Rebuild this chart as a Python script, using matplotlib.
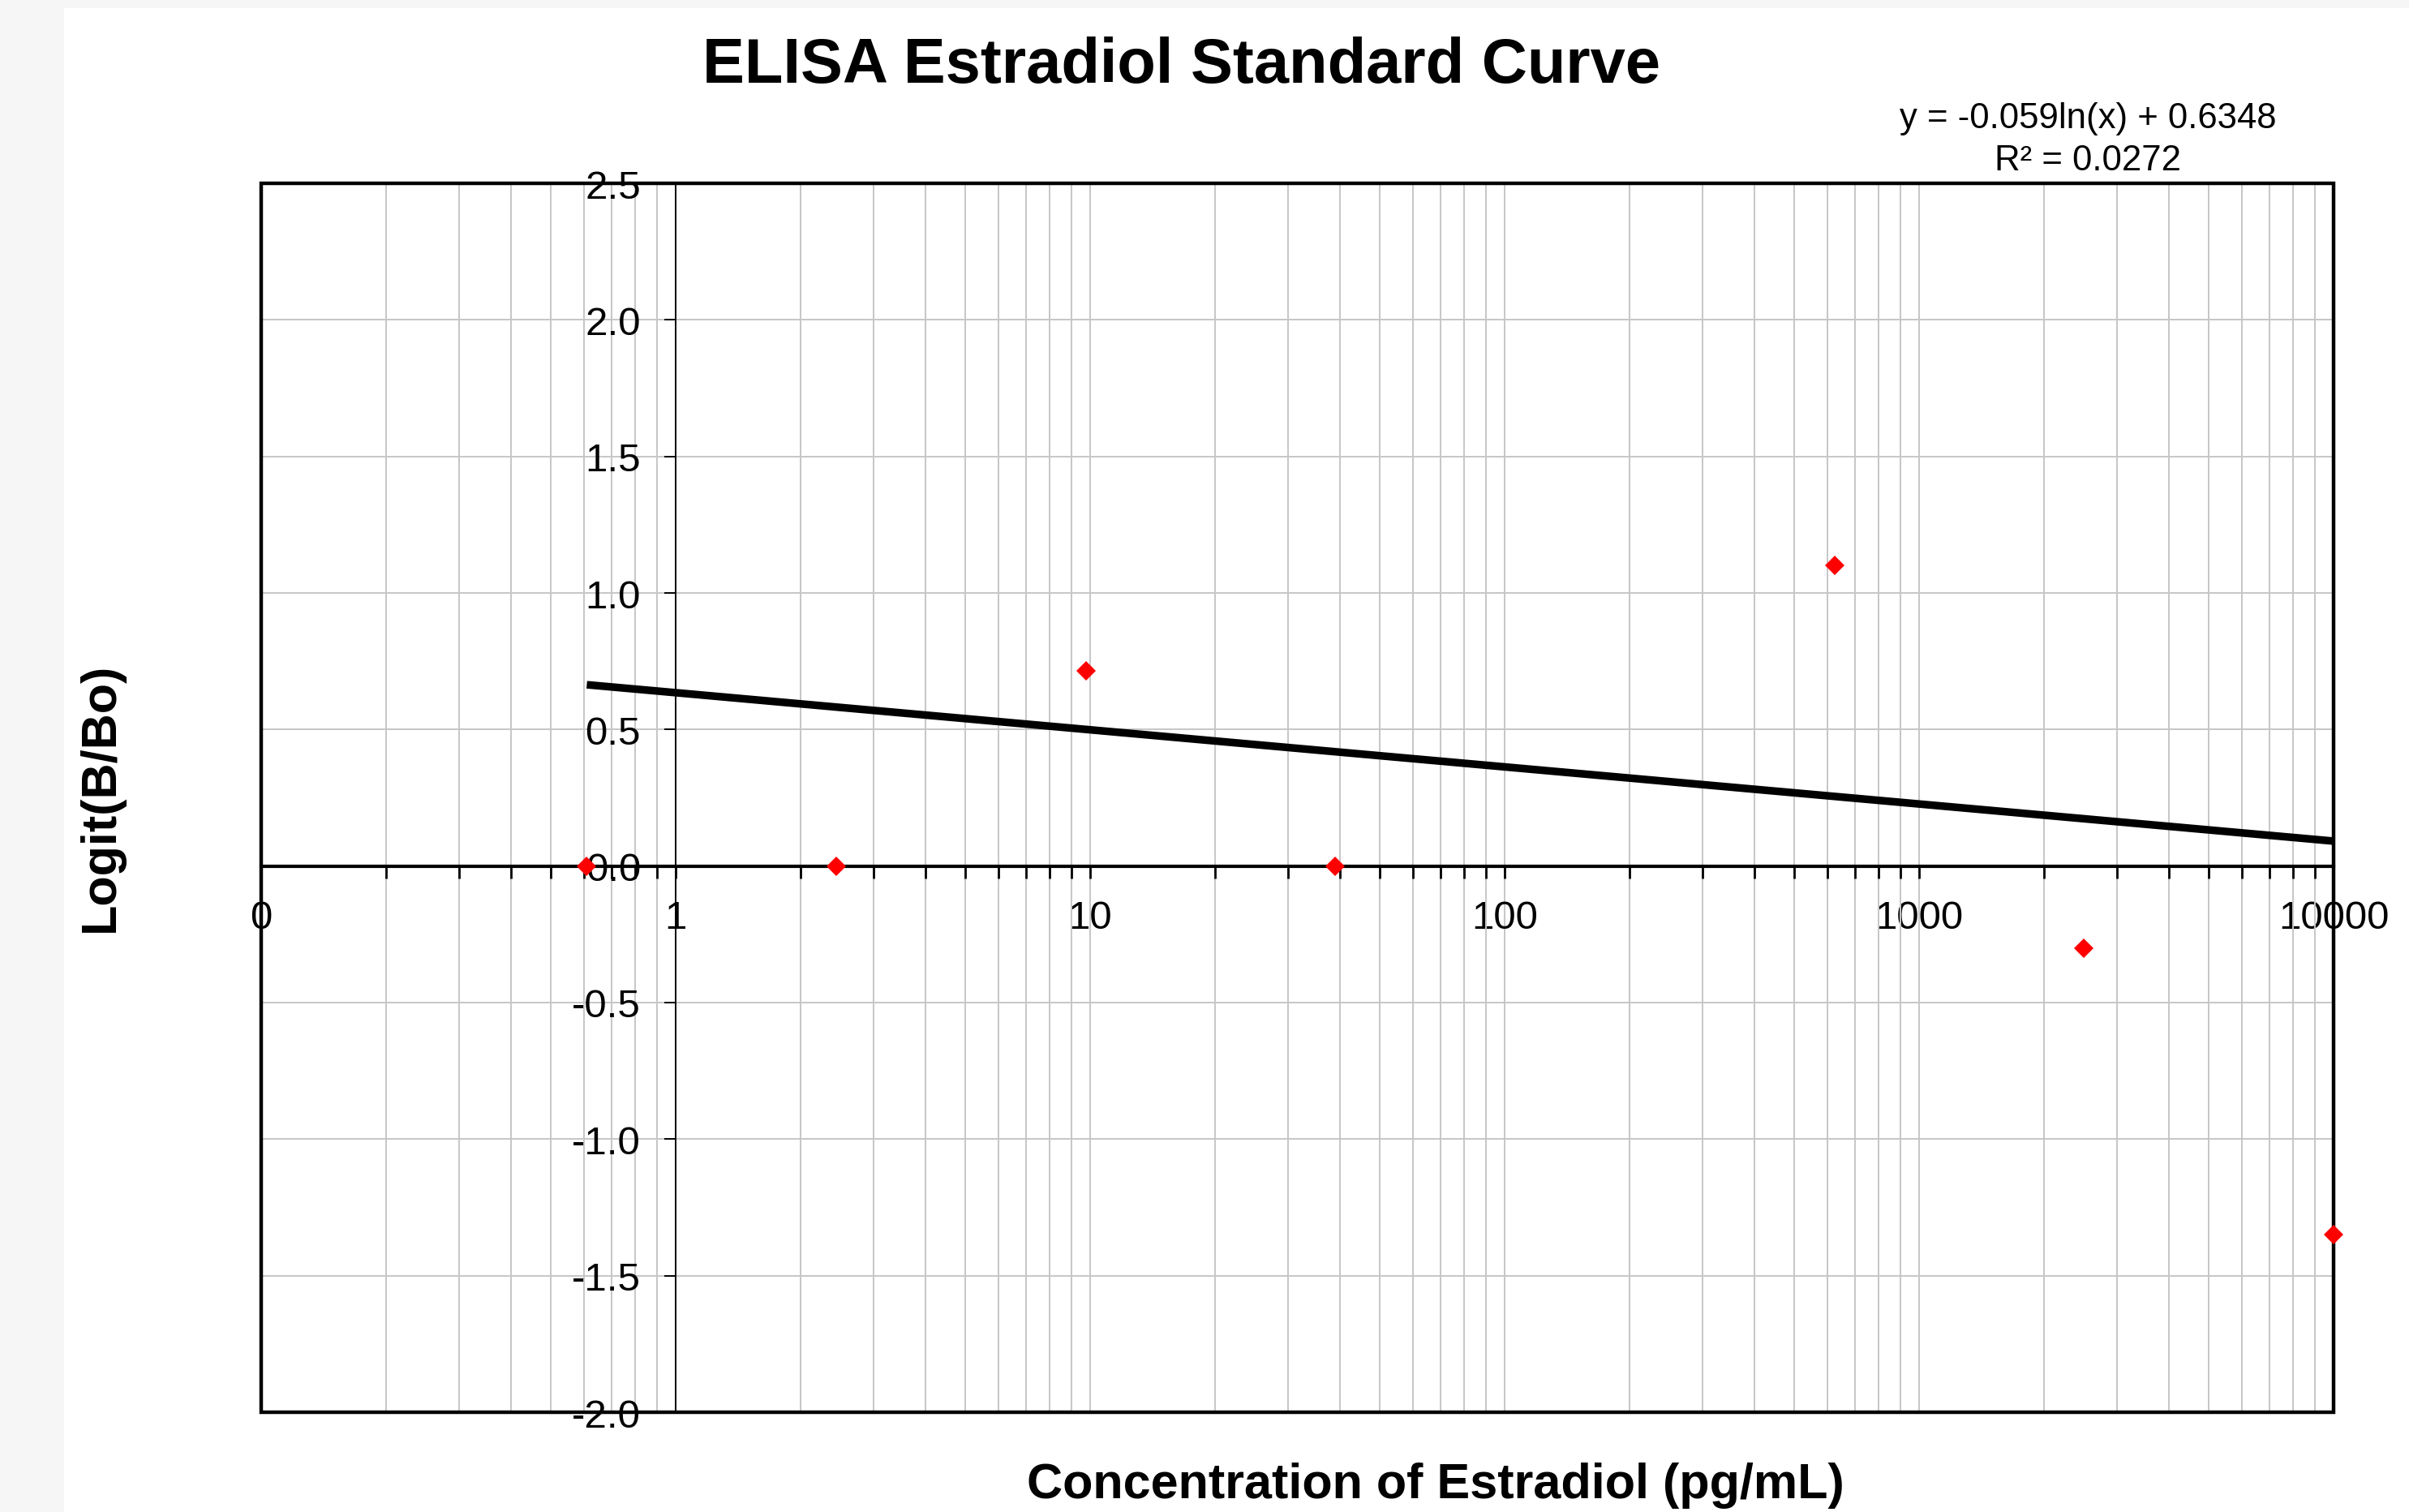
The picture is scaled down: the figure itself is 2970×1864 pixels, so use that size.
import numpy as np
import matplotlib
matplotlib.use('Agg')
import matplotlib.pyplot as plt
from matplotlib.patches import Rectangle
from matplotlib.ticker import FixedLocator, FixedFormatter, LogLocator, NullFormatter

# ---- data ----
concentration = [0.6104, 2.4414, 9.7656, 39.0625, 625.0, 2500.0, 10000.0]
logit_b_bo = [0.0, 0.0, 0.715, 0.0, 1.10, -0.30, -1.35]
trend_slope = -0.059
trend_intercept = 0.6348
r_squared = 0.0272
x_tick_values = [0.1, 1, 10, 100, 1000, 10000]
x_tick_labels = ['0', '1', '10', '100', '1000', '10000']
y_tick_values = [-2.0, -1.5, -1.0, -0.5, 0.0, 0.5, 1.0, 1.5, 2.0, 2.5]
y_tick_labels = ['-2.0', '-1.5', '-1.0', '-0.5', '0.0', '0.5', '1.0', '1.5', '2.0', '2.5']
title = 'ELISA Estradiol Standard Curve'
x_label = 'Concentration of Estradiol (pg/mL)'
y_label = 'Logit(B/Bo)'

plt.rcParams['font.family'] = ['Liberation Sans', 'DejaVu Sans']

W, H = 2970, 1865
fig = plt.figure(figsize=(W / 100, H / 100), dpi=100, facecolor='#f6f6f6')
fig.patches.append(Rectangle((79 / W, 0), 1 - 79 / W, 1 - 11 / H, transform=fig.transFigure,
                             facecolor='white', edgecolor='none', zorder=-10))

L, R, T, B = 322, 2877, 227, 1742
ax = fig.add_axes([L / W, 1 - B / H, (R - L) / W, (B - T) / H])
ax.set_facecolor('white')
ax.set_xscale('log')
ax.set_xlim(0.1, 10000)
ax.set_ylim(-2.0, 2.5)

# axes crossing
ax.spines['left'].set_position(('data', 1))
ax.spines['bottom'].set_position(('data', 0))
ax.spines['left'].set_linewidth(1.4)
ax.spines['bottom'].set_linewidth(3.0)
ax.spines['top'].set_visible(False)
ax.spines['right'].set_visible(False)
ax.add_patch(Rectangle((0, 0), 1, 1, transform=ax.transAxes, fill=False,
                       edgecolor='black', linewidth=3.2, clip_on=False, zorder=5))

# ticks
ax.xaxis.set_major_locator(FixedLocator(x_tick_values))
ax.xaxis.set_major_formatter(FixedFormatter(x_tick_labels))
ax.xaxis.set_minor_locator(LogLocator(base=10, subs=np.arange(2, 10), numticks=20))
ax.xaxis.set_minor_formatter(NullFormatter())
ax.yaxis.set_major_locator(FixedLocator(y_tick_values))
ax.yaxis.set_major_formatter(FixedFormatter(y_tick_labels))
ax.tick_params(axis='x', which='both', direction='out', length=11, width=2.0,
               labelsize=35.5, pad=19, colors='black')
ax.tick_params(axis='y', which='major', direction='out', length=10, width=1.4,
               labelsize=35.5, pad=21, colors='black')

# grid
ax.set_axisbelow(True)
ax.grid(True, which='both', axis='x', color='#c6c6c6', linewidth=1.4)
ax.grid(True, which='major', axis='y', color='#c6c6c6', linewidth=1.4)

# trendline
x_line = np.array([min(concentration), max(concentration)])
y_line = trend_slope * np.log(x_line) + trend_intercept
ax.plot(x_line, y_line, color='black', linewidth=6.8, solid_capstyle='butt', zorder=3)

# data points
ax.plot(concentration, logit_b_bo, linestyle='none', marker='D', markersize=12.5,
        color='#ff0000', markeredgewidth=0, clip_on=False, zorder=6)

# texts
fig.text(1456 / W, 1 - 102 / H, title, ha='center', va='baseline',
         fontsize=56, fontweight='bold')
fig.text(1770 / W, 1 - 1847 / H, x_label, ha='center', va='baseline',
         fontsize=44, fontweight='bold')
fig.text(140 / W, 1 - 983 / H, y_label, ha='center', va='baseline',
         fontsize=44, fontweight='bold', rotation=90, rotation_mode='anchor')
fig.text(2574 / W, 1 - 158 / H, f'y = {trend_slope}ln(x) + {trend_intercept}',
         ha='center', va='baseline', fontsize=31.5)
fig.text(2574 / W, 1 - 210 / H, f'R\u00b2 = {r_squared}',
         ha='center', va='baseline', fontsize=31.5)

fig.savefig('out.png', dpi=100, facecolor=fig.get_facecolor())
